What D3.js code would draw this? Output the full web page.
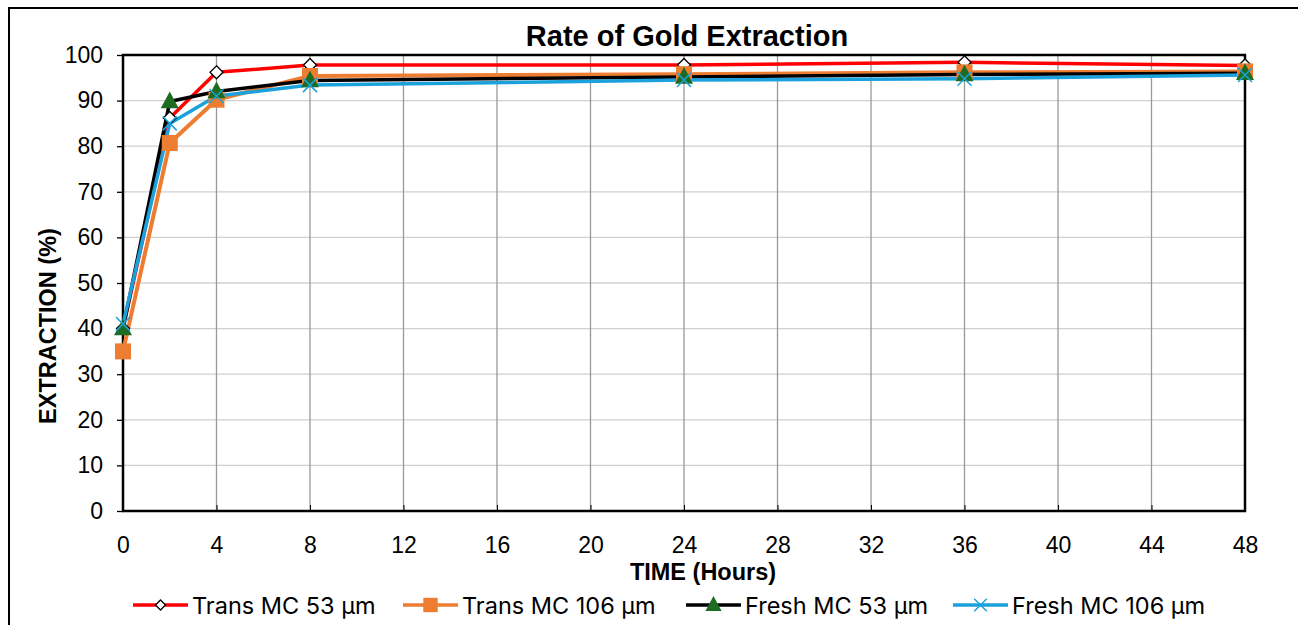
<!DOCTYPE html>
<html>
<head>
<meta charset="utf-8">
<script src="https://cdn.jsdelivr.net/npm/d3@7"></script>
<style>
  body { margin: 0; background: #fff; }
  svg { display: block; }
</style>
</head>
<body>
<div id="chart"></div>
<script>
// data
const hours = [0, 2, 4, 8, 24, 36, 48];
const transMC53 = [40, 86.2, 96.2, 97.8, 97.8, 98.4, 97.7];
const transMC106 = [35, 80.7, 90.2, 95.4, 95.8, 96.2, 96.4];
const freshMC53 = [40, 89.8, 92, 94.4, 95.2, 95.7, 96];
const freshMC106 = [41, 85, 91, 93.4, 94.5, 94.8, 95.6];
const seriesNames = ["Trans MC 53 µm", "Trans MC 106 µm", "Fresh MC 53 µm", "Fresh MC 106 µm"];
const xTicks = d3.range(0, 49, 4);
const yTicks = d3.range(0, 101, 10);

const series = [
  { name: seriesNames[0], values: transMC53, line: "#ff0000", marker: "diamond" },
  { name: seriesNames[1], values: transMC106, line: "#ed7d31", marker: "square" },
  { name: seriesNames[2], values: freshMC53, line: "#000000", marker: "triangle" },
  { name: seriesNames[3], values: freshMC106, line: "#1ba1dc", marker: "cross" }
];

const width = 1298, height = 625;
const margin = { top: 55, right: 53, bottom: 114, left: 123 };
const font = "Liberation Sans, Arial, sans-serif";

const svg = d3.select("#chart").append("svg")
  .attr("width", width)
  .attr("height", height);

// outer frame (top and left only)
svg.append("path")
  .attr("d", `M9,${height} V8 H${width}`)
  .attr("fill", "none")
  .attr("stroke", "#000")
  .attr("stroke-width", 2);

const x = d3.scaleLinear().domain([0, 48]).range([margin.left, width - margin.right]);
const y = d3.scaleLinear().domain([0, 100]).range([height - margin.bottom, margin.top]);

// horizontal grid
svg.append("g")
  .selectAll("line")
  .data(yTicks.slice(1, -1))
  .enter().append("line")
  .attr("x1", x(0)).attr("x2", x(48))
  .attr("y1", d => y(d)).attr("y2", d => y(d))
  .attr("stroke", "#d0d0d0")
  .attr("stroke-width", 1.3);

// vertical grid
svg.append("g")
  .selectAll("line")
  .data(xTicks.slice(1, -1))
  .enter().append("line")
  .attr("x1", d => x(d)).attr("x2", d => x(d))
  .attr("y1", y(0)).attr("y2", y(100))
  .attr("stroke", "#999")
  .attr("stroke-width", 1.3);

// y axis
const yAxis = svg.append("g")
  .attr("transform", `translate(${margin.left},0)`)
  .call(d3.axisLeft(y).tickValues(yTicks).tickSize(6).tickPadding(14).tickSizeOuter(0));
yAxis.select(".domain").remove();
yAxis.selectAll("line").attr("stroke", "#000").attr("stroke-width", 1.3);
yAxis.selectAll("text")
  .attr("font-family", font)
  .attr("font-size", 23)
  .attr("fill", "#000");

// x axis: ticks point inward
const xAxis = svg.append("g")
  .attr("transform", `translate(0,${y(0)})`)
  .call(d3.axisBottom(x).tickValues(xTicks).tickSize(-6).tickPadding(26).tickSizeOuter(0));
xAxis.select(".domain").remove();
xAxis.selectAll("line").attr("stroke", "#000").attr("stroke-width", 1);
xAxis.selectAll("text")
  .attr("font-family", font)
  .attr("font-size", 23)
  .attr("fill", "#000");

// plot frame
svg.append("rect")
  .attr("x", x(0)).attr("y", y(100))
  .attr("width", x(48) - x(0)).attr("height", y(0) - y(100))
  .attr("fill", "none")
  .attr("stroke", "#000")
  .attr("stroke-width", 2.5);

function drawMarker(g, type, color, size) {
  if (type === "diamond") {
    g.append("path")
      .attr("d", `M0,${-size} L${size},0 L0,${size} L${-size},0 Z`)
      .attr("fill", "#fff").attr("stroke", "#000").attr("stroke-width", 1.3);
  } else if (type === "square") {
    g.append("rect")
      .attr("x", -size).attr("y", -size)
      .attr("width", size * 2).attr("height", size * 2)
      .attr("fill", "#ed7d31");
  } else if (type === "triangle") {
    g.append("path")
      .attr("d", `M0,${-size * 1.1} L${size},${size * 0.75} L${-size},${size * 0.75} Z`)
      .attr("fill", "#1e6b23");
  } else if (type === "cross") {
    g.append("path")
      .attr("d", `M${-size},${-size} L${size},${size} M${-size},${size} L${size},${-size}`)
      .attr("stroke", color).attr("stroke-width", 1.5);
  }
}

const markerSize = { diamond: 6.5, square: 8, triangle: 9, cross: 7 };

const line = d3.line()
  .x((d, i) => x(hours[i]))
  .y(d => y(d));

series.forEach(s => {
  svg.append("path")
    .datum(s.values)
    .attr("fill", "none")
    .attr("stroke", s.line)
    .attr("stroke-width", s.marker === "square" ? 4 : 3.5)
    .attr("stroke-linejoin", "round")
    .attr("d", line);
});

series.forEach(s => {
  s.values.forEach((v, i) => {
    const g = svg.append("g").attr("transform", `translate(${x(hours[i])},${y(v)})`);
    drawMarker(g, s.marker, s.line, markerSize[s.marker]);
  });
});

// title and axis labels
svg.append("text")
  .attr("x", 687).attr("y", 46)
  .attr("text-anchor", "middle")
  .attr("font-family", font)
  .attr("font-size", 29).attr("font-weight", "bold")
  .text("Rate of Gold Extraction");

svg.append("text")
  .attr("x", 703).attr("y", 580)
  .attr("text-anchor", "middle")
  .attr("font-family", font)
  .attr("font-size", 23.5).attr("font-weight", "bold")
  .text("TIME (Hours)");

svg.append("text")
  .attr("transform", `translate(56,${(y(0) + y(100)) / 2 + 43}) rotate(-90)`)
  .attr("text-anchor", "middle")
  .attr("font-family", font)
  .attr("font-size", 23.5).attr("font-weight", "bold")
  .text("EXTRACTION (%)");

// legend
const legendX = [133, 403, 686, 953];
const legend = svg.append("g");
series.forEach((s, i) => {
  const g = legend.append("g").attr("transform", `translate(${legendX[i]},605)`);
  g.append("line")
    .attr("x1", 0).attr("x2", 55)
    .attr("stroke", s.line).attr("stroke-width", 3.5);
  const m = g.append("g").attr("transform", "translate(27.5,0)");
  drawMarker(m, s.marker, s.line, s.marker === "diamond" ? 5 : markerSize[s.marker] * 0.9);
  g.append("text")
    .attr("x", 59).attr("y", 8.5)
    .attr("font-family", "Inter, Noto Sans, sans-serif")
    .attr("font-size", 23.5)
    .text(s.name);
});
</script>
</body>
</html>
